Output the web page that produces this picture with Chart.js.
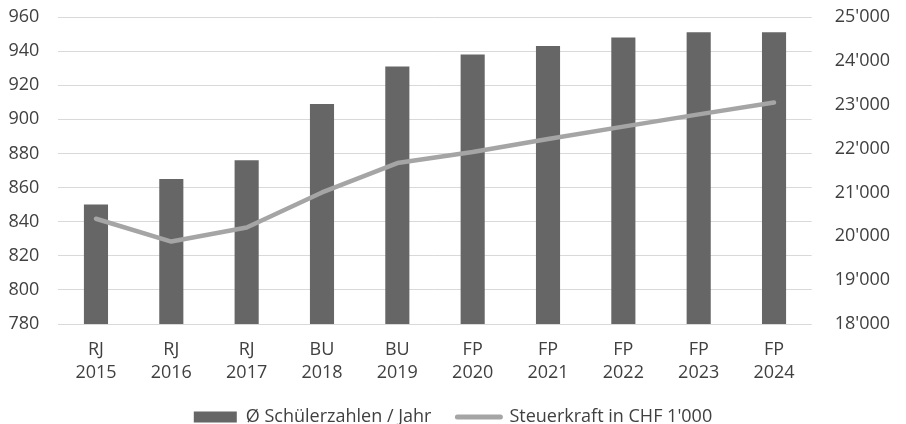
<!DOCTYPE html>
<html><head><meta charset="utf-8">
<script src="https://cdn.jsdelivr.net/npm/chart.js@4/dist/chart.umd.min.js"></script>
<style>html,body{margin:0;padding:0;background:#fff}#wrap{width:906px;height:424px;position:relative}</style>
</head><body><div id="wrap"><canvas id="c" width="906" height="424"></canvas></div>
<script>
const categories = [["RJ","2015"],["RJ","2016"],["RJ","2017"],["BU","2018"],["BU","2019"],["FP","2020"],["FP","2021"],["FP","2022"],["FP","2023"],["FP","2024"]];
const schuelerzahlen = [850, 865, 876, 909, 931, 938, 943, 948, 951, 951];
const steuerkraft = [20400, 19880, 20200, 21000, 21670, 21920, 22220, 22500, 22780, 23050];
const seriesNames = ["Ø Schülerzahlen / Jahr", "Steuerkraft in CHF 1'000"];

const FONT = "'Open Sans', 'DejaVu Sans', sans-serif";
const TXT = '#404040';
Chart.defaults.font.family = FONT;
Chart.defaults.font.size = 18;
Chart.defaults.color = TXT;

new Chart(document.getElementById('c'), {
  data: {
    labels: categories,
    datasets: [
      { type: 'bar', label: seriesNames[0], data: schuelerzahlen, yAxisID: 'y',
        backgroundColor: '#666666', borderWidth: 0, order: 1,
        categoryPercentage: 1, barPercentage: 0.32 },
      { type: 'line', label: seriesNames[1], data: steuerkraft, yAxisID: 'y1',
        borderColor: '#a5a5a5', backgroundColor: '#a5a5a5', borderWidth: 4.5,
        borderCapStyle: 'round', borderJoinStyle: 'round',
        pointRadius: 0, tension: 0, order: 0 }
    ]
  },
  options: {
    responsive: false, animation: false, devicePixelRatio: 1,
    layout: { padding: { top: 17, left: 0, right: 0, bottom: -12 } },
    plugins: {
      tooltip: { enabled: false },
      legend: {
        position: 'bottom',
        labels: {
          usePointStyle: true, pointStyleWidth: 43, boxHeight: 11, padding: 26,
          font: { size: 18, family: FONT }, color: TXT,
          sort: (a, b) => a.datasetIndex - b.datasetIndex,
          generateLabels: (chart) => {
            const items = Chart.defaults.plugins.legend.labels.generateLabels(chart);
            items.forEach(it => {
              if (it.datasetIndex === 0) { it.pointStyle = 'rect'; it.lineWidth = 0; it.strokeStyle = '#666666'; }
              else { it.pointStyle = 'line'; it.lineWidth = 5; it.strokeStyle = '#a5a5a5'; it.lineCap = 'round'; }
            });
            return items;
          }
        }
      }
    },
    scales: {
      x: {
        grid: { display: false, drawTicks: false },
        border: { display: false },
        ticks: { padding: 14, font: { size: 18, lineHeight: 1.3 }, color: TXT, maxRotation: 0, autoSkip: false },
        afterFit: (s) => { s.height = 58; }
      },
      y: {
        position: 'left', min: 780, max: 960,
        grid: { color: '#d9d9d9', lineWidth: 1, drawTicks: false },
        border: { display: false },
        ticks: { stepSize: 20, padding: 19, color: TXT },
        afterFit: (s) => { s.width = 58.3; s.paddingTop = 0; s.paddingBottom = 0; }
      },
      y1: {
        position: 'right', min: 18000, max: 25000,
        grid: { display: false, drawTicks: false },
        border: { display: false },
        ticks: { stepSize: 1000, padding: 23, color: TXT,
          callback: (v) => String(Math.round(v)).replace(/\B(?=(\d{3})+(?!\d))/g, "'") },
        afterFit: (s) => { s.width = 94.3; s.paddingTop = 0; s.paddingBottom = 0; }
      }
    }
  }
});
</script></body></html>
